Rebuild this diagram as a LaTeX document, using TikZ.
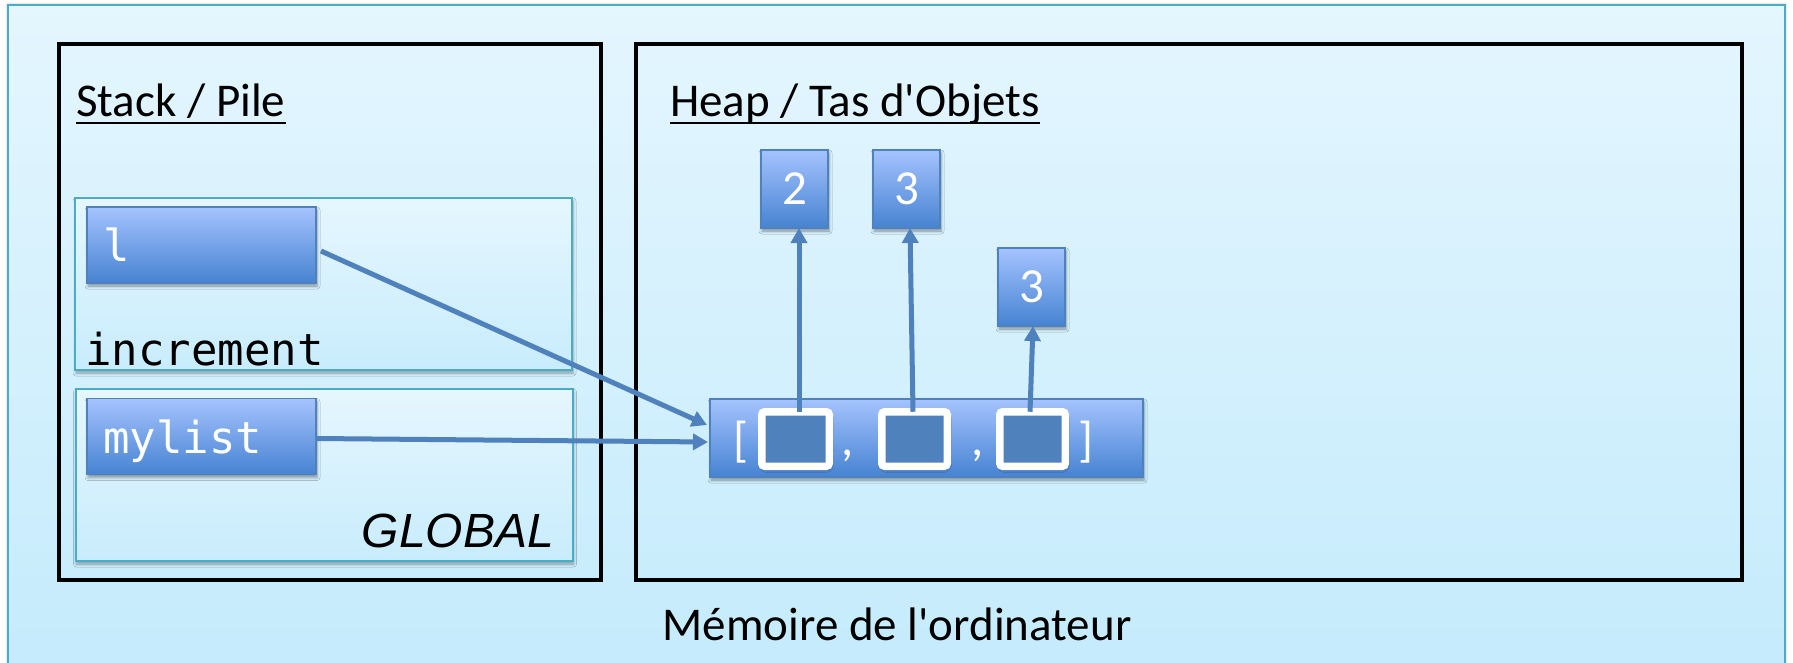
\documentclass[tikz,border=0pt]{standalone}
\usepackage{fontspec}
\setmainfont{Carlito}[Ligatures=TeXOff]
\setmonofont{DejaVu Sans Mono}
\newfontfamily\labelfont{Liberation Sans}
\usetikzlibrary{shadows.blur,arrows.meta}

\definecolor{bgtop}{HTML}{E4F6FE}
\definecolor{bgbot}{HTML}{C2EAFC}
\definecolor{frameline}{HTML}{4BACC6}
\definecolor{boxtop}{HTML}{A5C3FE}
\definecolor{boxbot}{HTML}{4683D2}
\definecolor{boxline}{HTML}{4F81BD}
\definecolor{cellfill}{HTML}{4F81BD}
\definecolor{link}{HTML}{4F81BD}

\tikzset{
  memory/.style={draw=frameline, line width=2pt, top color=bgtop, bottom color=bgbot,
    anchor=north west, inner sep=0pt, outer sep=0pt,
    blur shadow={shadow xshift=0pt, shadow yshift=0pt, shadow blur radius=3pt, shadow opacity=35}},
  zone/.style={draw=black, line width=4pt, anchor=north west, inner sep=0pt, outer sep=0pt},
  scopebox/.style={draw=frameline, line width=2pt, top color=bgtop!95!white, bottom color=bgbot!90!white,
    anchor=north west, inner sep=0pt, outer sep=0pt,
    blur shadow={shadow xshift=1pt, shadow yshift=-3pt, shadow blur radius=3pt, shadow opacity=35}},
  varbox/.style={draw=boxline, line width=1.5pt, top color=boxtop, bottom color=boxbot,
    anchor=north west, inner sep=0pt, outer sep=0pt, text=white,
    font=\fontsize{48}{56}\selectfont,
    blur shadow={shadow xshift=1pt, shadow yshift=-3pt, shadow blur radius=3pt, shadow opacity=40}},
  cell/.style={draw=white, line width=7.5pt, rounded corners=3pt, fill=cellfill,
    anchor=north west, inner sep=0pt, outer sep=0pt,
    blur shadow={shadow xshift=1pt, shadow yshift=-3pt, shadow blur radius=3pt, shadow opacity=40}},
  title/.style={anchor=base west, inner sep=0pt, font=\fontsize{47}{56}\selectfont},
  code/.style={anchor=base west, inner sep=0pt, font=\ttfamily\fontsize{44}{52}\selectfont},
  punct/.style={inner sep=0pt, text=white, font=\fontsize{49}{56}\selectfont},
  ref/.style={draw=link, line width=5pt, -{Triangle[length=15pt,width=16pt]}},
  uline/.style={draw=black, line width=2.5pt},
}

\begin{document}
\begin{tikzpicture}[x=1pt,y=-1pt]
\useasboundingbox (0,0) rectangle (1793,663);
\clip (0,0) rectangle (1793,663);

% computer memory
\node[memory, minimum width=1777pt, minimum height=720pt] (mem) at (8,5) {};
\node[anchor=base, inner sep=0pt, font=\fontsize{47}{56}\selectfont] (memtitle) at (897,640) {Mémoire de l'ordinateur};

% stack and heap areas
\node[zone, minimum width=542pt, minimum height=535.5pt] (stack) at (59,44) {};
\node[zone, minimum width=1106pt, minimum height=535.5pt] (heap) at (636,44) {};
\node[title] (stacktitle) at (76,117) {Stack / Pile};
\node[title] (heaptitle) at (670,117) {Heap / Tas d'Objets};
\draw[uline] ([yshift=-6pt]stacktitle.base west) -- ([yshift=-6pt]stacktitle.base east);
\draw[uline] ([yshift=-6pt]heaptitle.base west) -- ([yshift=-6pt]heaptitle.base east);

% frames
\node[scopebox, minimum width=497pt, minimum height=172pt] (incframe) at (75,198) {};
\node[scopebox, minimum width=497pt, minimum height=172pt] (globframe) at (75.5,389) {};
\node[code] (incname) at (85,365) {increment};
\node[anchor=base east, inner sep=0pt, font=\labelfont\itshape\fontsize{48}{56}\selectfont] (globname) at (554,547) {GLOBAL};

% variables
\node[varbox, minimum width=229pt, minimum height=76pt] (lvar) at (87,207) {};
\node[varbox, minimum width=229pt, minimum height=76pt] (mylist) at (87,398.5) {};
\node[code, text=white] (ltxt) at (103,261) {l};
\node[code, text=white] (mylisttxt) at (103,453) {mylist};

% list object
\node[varbox, minimum width=433pt, minimum height=78pt] (listobj) at (710,399) {};
\node[cell, minimum width=67.5pt, minimum height=54.5pt] (c1) at (761.75,411.75) {};
\node[cell, minimum width=65.5pt, minimum height=54.5pt] (c2) at (881.75,411.75) {};
\node[cell, minimum width=65.5pt, minimum height=54.5pt] (c3) at (999.75,411.75) {};
\node[punct, anchor=base west] (lbr) at (733,456) {[};
\node[punct, anchor=base] (comma1) at (848,455) {,};
\node[punct, anchor=base] (comma2) at (978,455) {,};
\node[punct, anchor=base east] (rbr) at (1094,456) {]};

% integer objects
\node[varbox, minimum width=67pt, minimum height=78pt] (v2) at (761,150) {};
\node[varbox, minimum width=67pt, minimum height=78pt] (v3a) at (873,150) {};
\node[varbox, minimum width=67pt, minimum height=78pt] (v3b) at (998,248) {};
\node[punct] at (v2.center) {2};
\node[punct] at (v3a.center) {3};
\node[punct] at (v3b.center) {3};

% references
\draw[ref] ([xshift=3.5pt]c1.north) -- ([xshift=4.5pt]v2.south);
\draw[ref] ([xshift=-1.5pt]c2.north) -- ([xshift=3.5pt]v3a.south);
\draw[ref] ([xshift=-2.5pt]c3.north) -- ([xshift=1.5pt]v3b.south);
\draw[ref] ([shift={(5,6)}]lvar.east) -- ([shift={(-3,-13)}]listobj.west);
\draw[ref] ([shift={(0,2)}]mylist.east) -- ([shift={(-2,4)}]listobj.west);
\end{tikzpicture}
\end{document}
